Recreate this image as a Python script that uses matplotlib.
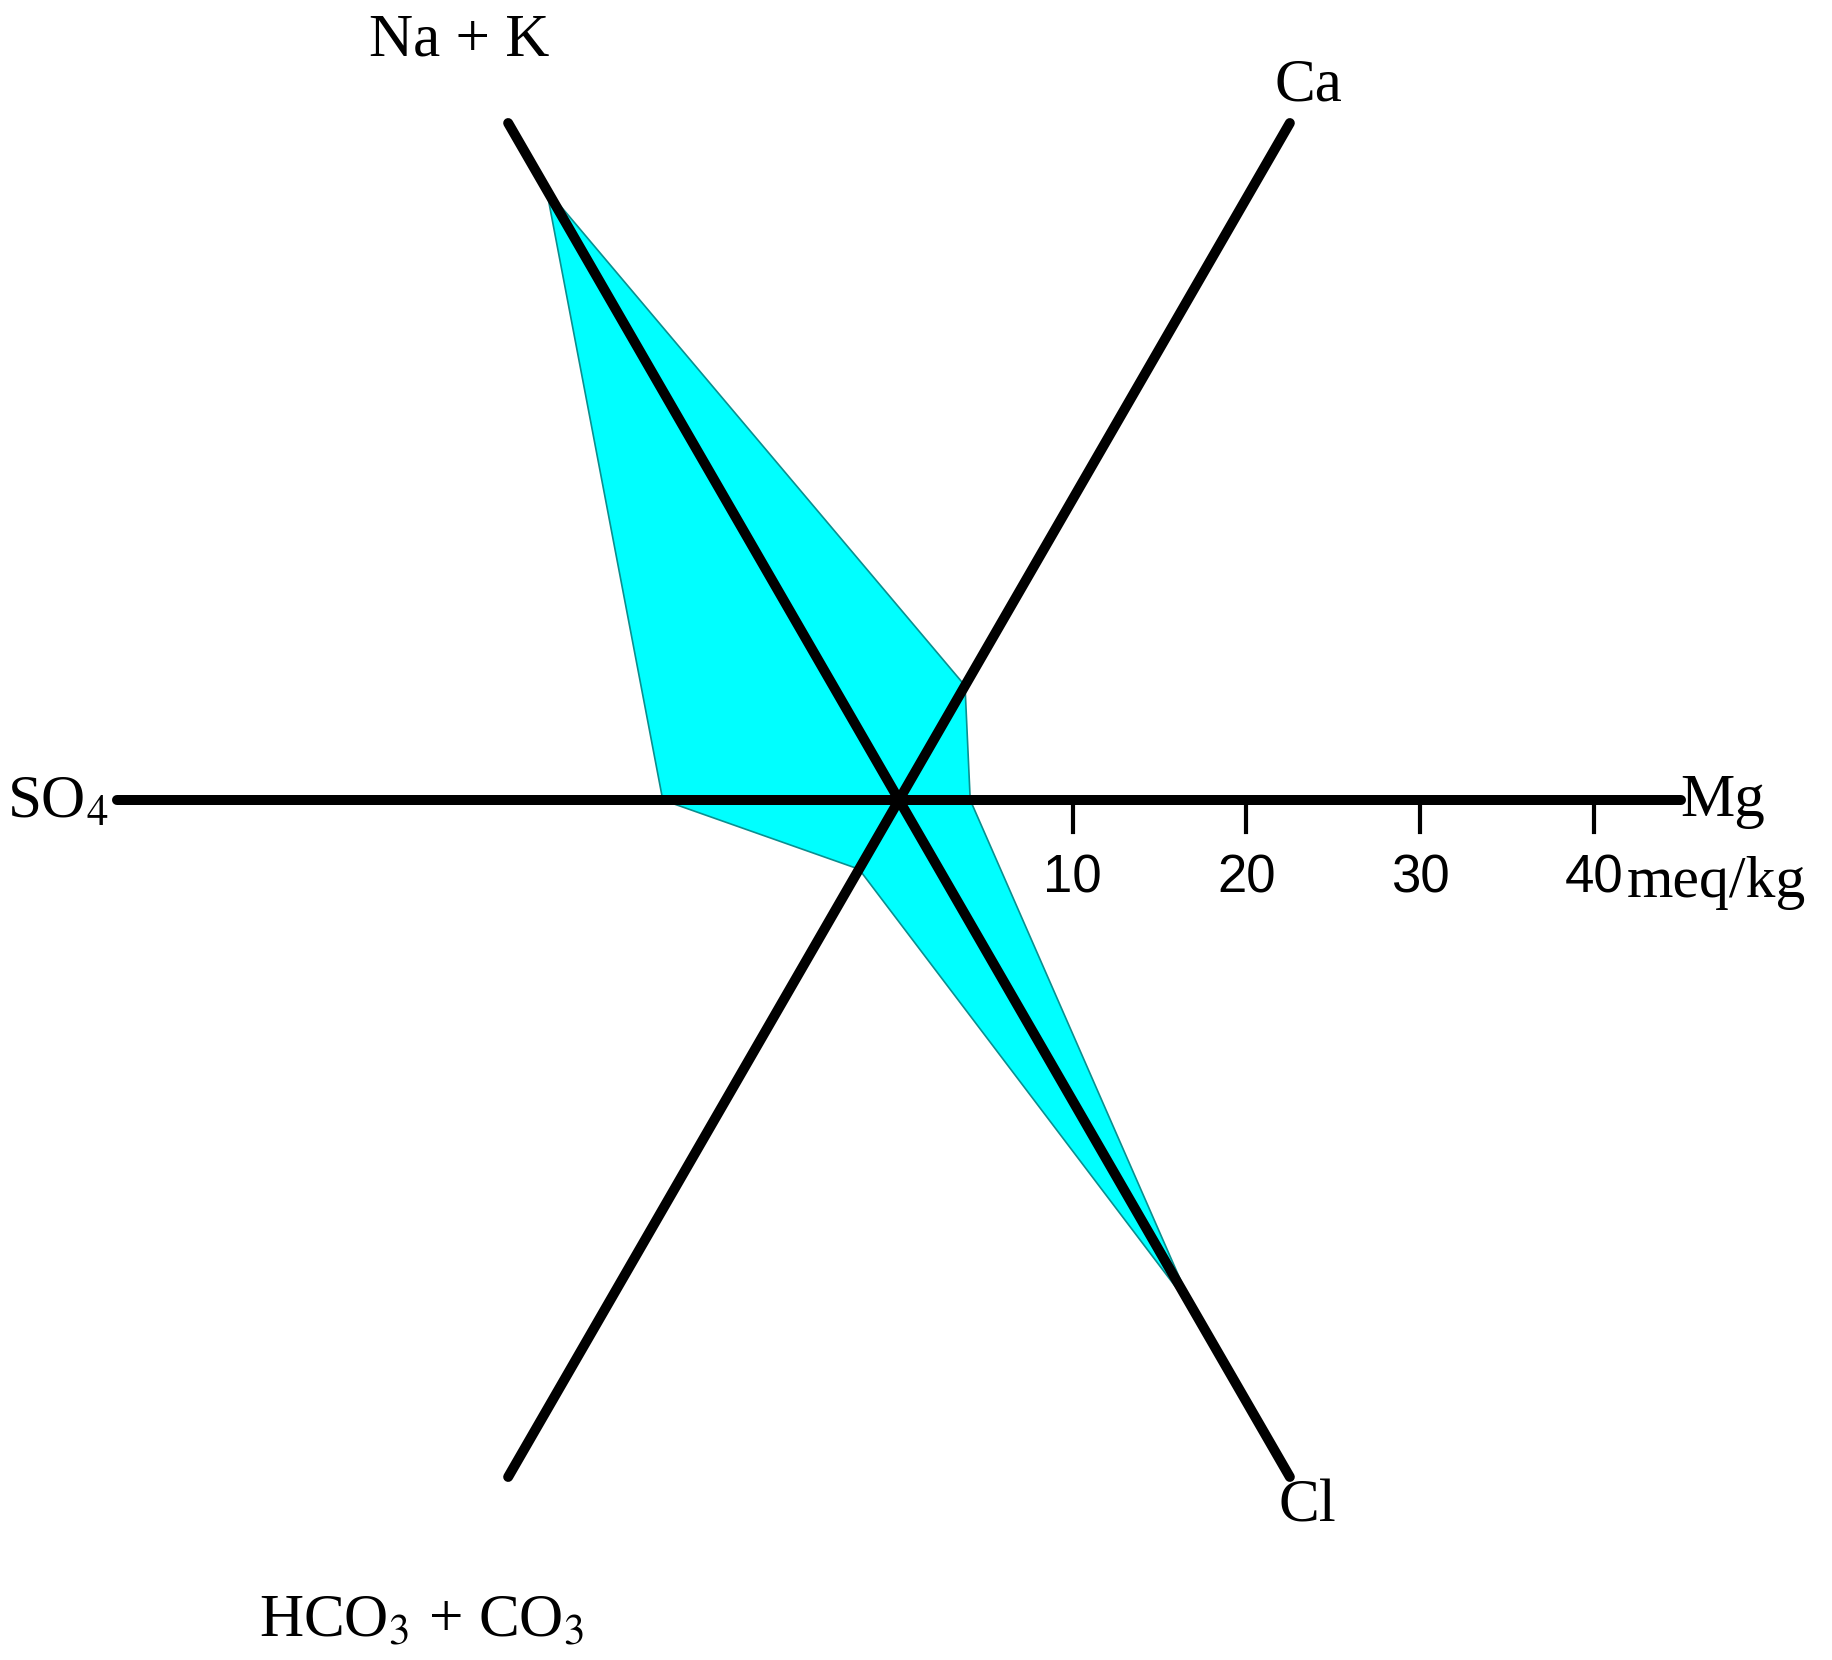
import numpy as np
import matplotlib
matplotlib.use("Agg")
import matplotlib.pyplot as plt

# ---- data ----
ions = ["Na + K", "Ca", "Mg", "Cl", "HCO$_3$ + CO$_3$", "SO$_4$"]
values = [40.6, 7.6, 4.1, 34.0, 4.6, 13.6]        # meq/kg
tick_values = [10, 20, 30, 40]
tick_labels = ["10", "20", "30", "40"]
unit_label = "meq/kg"
axis_max = 45

# ---- layout ----
angles = np.deg2rad([120, 60, 0, -60, -120, 180])
W, H, DPI = 1833, 1660, 100
PX = 17.37          # pixels per meq/kg
CX, CY = 899, 800   # centre in pixels (from top-left)

plt.rcParams["mathtext.fontset"] = "stix"
fig = plt.figure(figsize=(W / DPI, H / DPI), dpi=DPI)
ax = fig.add_axes([0, 0, 1, 1])
ax.set_xlim(-CX / PX, (W - CX) / PX)
ax.set_ylim(-(H - CY) / PX, CY / PX)
ax.axis("off")

# polygon
xs = np.array(values) * np.cos(angles)
ys = np.array(values) * np.sin(angles)
ax.fill(xs, ys, facecolor="#00FFFF", edgecolor="#0A8F8F", linewidth=1.2, zorder=1)

# axes lines (three full diameters)
for a in angles[:3]:
    ax.plot([axis_max * np.cos(a), -axis_max * np.cos(a)],
            [axis_max * np.sin(a), -axis_max * np.sin(a)],
            color="black", lw=7.2, solid_capstyle="round", zorder=3)

# ticks on Mg axis
for tv, tl in zip(tick_values, tick_labels):
    ax.plot([tv, tv], [0, -1.85], color="black", lw=3, zorder=3)
    ax.text(tv, -4.5, tl, ha="center", va="center", fontsize=38,
            family="Liberation Sans")
ax.text(41.9, -4.75, unit_label, ha="left", va="center", fontsize=43,
        family="Liberation Serif")

serif = dict(family="Liberation Serif", fontsize=44)
label_pos = {
    "Na + K": ((-25.33, 43.7), "center"),
    "Ca": ((23.6, 41.1), "center"),
    "Mg": ((45.0, -0.1), "left"),
    "Cl": ((23.5, -40.7), "center"),
    "HCO$_3$ + CO$_3$": ((-27.5, -47.3), "center"),
    "SO$_4$": ((-45.5, -0.2), "right"),
}
for name in ions:
    (x, y), ha = label_pos[name]
    ax.text(x, y, name, ha=ha, va="center", **serif)

fig.savefig("out.png", dpi=DPI, facecolor="white")
